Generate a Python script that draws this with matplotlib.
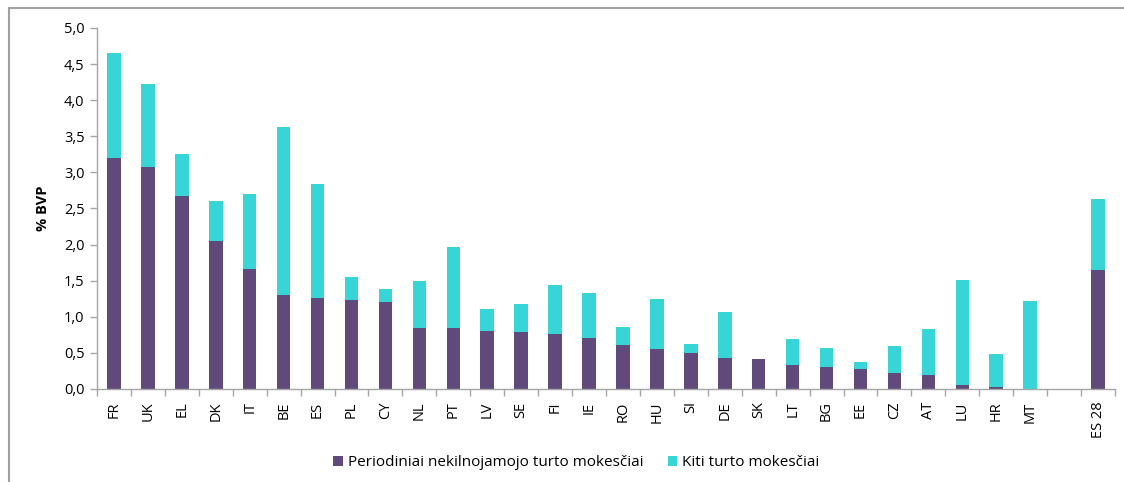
import numpy as np
import matplotlib
matplotlib.use("Agg")
import matplotlib.pyplot as plt
from matplotlib.patches import Rectangle
from matplotlib.ticker import FuncFormatter, FixedLocator

plt.rcParams['font.family'] = ['Open Sans', 'DejaVu Sans']

countries = ["FR", "UK", "EL", "DK", "IT", "BE", "ES", "PL", "CY", "NL",
             "PT", "LV", "SE", "FI", "IE", "RO", "HU", "SI", "DE", "SK",
             "LT", "BG", "EE", "CZ", "AT", "LU", "HR", "MT", "", "ES 28"]

# periodiniai nekilnojamojo turto mokesciai (% BVP)
recurrent = [3.20, 3.07, 2.67, 2.05, 1.66, 1.30, 1.26, 1.23, 1.20, 0.85,
             0.84, 0.80, 0.79, 0.76, 0.70, 0.61, 0.55, 0.50, 0.43, 0.42,
             0.33, 0.31, 0.28, 0.22, 0.19, 0.06, 0.03, 0.00, np.nan, 1.65]

# visi turto mokesciai kartu (% BVP)
total = [4.65, 4.22, 3.25, 2.60, 2.70, 3.63, 2.84, 1.55, 1.38, 1.50,
         1.97, 1.11, 1.18, 1.44, 1.33, 0.86, 1.25, 0.62, 1.06, 0.42,
         0.69, 0.57, 0.38, 0.59, 0.835, 1.505, 0.485, 1.215, np.nan, 2.63]

recurrent = np.array(recurrent)
other = np.array(total) - recurrent

purple = "#5F4A7B"
cyan = "#37D5D6"
grey = "#A6A6A6"

fig = plt.figure(figsize=(11.24, 4.82), dpi=100)
ax = fig.add_axes([0.0863, 0.193, 0.9057, 0.749])

x = np.arange(len(countries))
ax.bar(x, recurrent, width=0.4, color=purple,
       label="Periodiniai nekilnojamojo turto mokesčiai")
ax.bar(x, other, width=0.4, bottom=recurrent, color=cyan,
       label="Kiti turto mokesčiai")

ax.set_xlim(-0.5, len(countries) - 0.5)
ax.set_ylim(0, 5.0)
ax.set_yticks(np.arange(0, 5.01, 0.5))
ax.yaxis.set_major_formatter(FuncFormatter(lambda v, p: f"{v:.1f}".replace(".", ",")))

ax.set_xticks(x)
ax.set_xticklabels(countries, rotation=90)
ax.xaxis.set_minor_locator(FixedLocator(np.arange(-0.5, len(countries), 1.0)))
ax.tick_params(axis="x", which="major", length=0, pad=9, labelsize=10.5, colors="#000000")
ax.tick_params(axis="x", which="minor", length=5, color=grey, width=1)
ax.tick_params(axis="y", length=5, color=grey, width=1, labelsize=10.5, pad=4)

for side in ("top", "right"):
    ax.spines[side].set_visible(False)
for side in ("left", "bottom"):
    ax.spines[side].set_color(grey)
    ax.spines[side].set_linewidth(1)

ax.set_ylabel("% BVP", fontsize=10.5, fontweight="bold", labelpad=10)

ax.legend(loc="center", bbox_to_anchor=(0.471, -0.205), ncol=2, frameon=False,
          fontsize=11, handlelength=0.6, handleheight=0.6, handletextpad=0.35,
          columnspacing=1.6)

# chart area border
fig.patches.append(Rectangle((9 / 1124, -0.1), 1.2, 0.1 + (482 - 8) / 482,
                             transform=fig.transFigure, fill=False,
                             edgecolor="#A0A0A0", linewidth=1.5))

fig.savefig("out.png", dpi=100)
